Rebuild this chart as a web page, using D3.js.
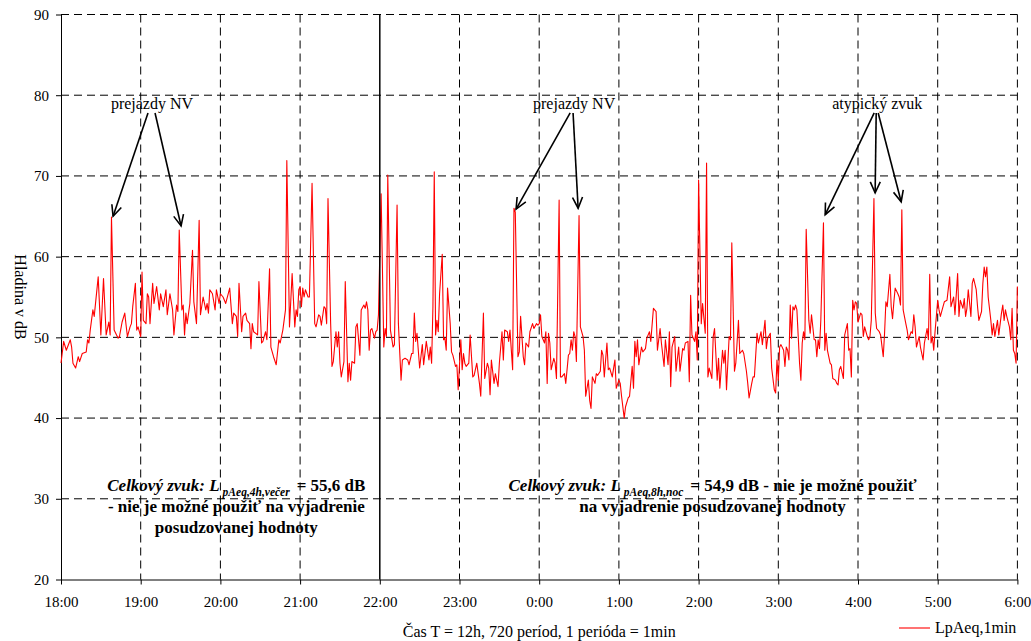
<!DOCTYPE html>
<html>
<head>
<meta charset="utf-8">
<script src="https://cdn.jsdelivr.net/npm/d3@7"></script>
<style>
  body { margin: 0; background: #fff; }
  svg { display: block; font-family: "Liberation Serif", "Times New Roman", serif; }
  .axis .tick text { font-size: 15px; fill: #000; }
  .axis path, .axis line { stroke: #000; }
</style>
</head>
<body>
<svg id="chart" width="1031" height="641"></svg>
<script>
// [minute from 18:00, LpAeq,1min dB], one array per 3 hours
const lp1800 = [[0,46.8],[2,49.5],[4,48.4],[7,49.7],[8,48.8],[9,46.8],[11,46.2],[13,47.6],[14,47.0],[16,48.0],[19,48.2],[20,49.7],[21,49.3],[22,50.9],[24,53.4],[25,52.6],[28,57.5],[30,50.3],[32,57.3],[34,50.3],[36,51.9],[37,50.3],[38,64.9],[40,50.9],[43,49.9],[44,50.1],[46,51.9],[48,53.0],[49,51.5],[50,50.1],[52,51.3],[53,51.7],[54,53.8],[56,56.7],[57,50.9],[58,51.3],[60,50.1],[61,58.1],[62,52.1],[64,51.7],[65,55.4],[66,55.0],[67,51.7],[69,56.7],[70,54.2],[72,56.3],[74,53.4],[75,55.4],[77,53.8],[79,55.9],[80,52.8],[82,55.4],[84,53.4],[85,50.3],[87,54.0],[88,53.2],[89,63.3],[91,53.4],[92,54.0],[93,50.3],[94,53.0],[95,51.7],[97,54.2],[99,60.8],[100,54.4],[102,51.7],[104,64.5],[105,52.8],[107,55.0],[109,53.4],[110,54.2],[111,53.0],[112,55.9],[114,55.4],[116,53.4],[117,55.9],[119,54.2],[120,55.4],[122,55.0],[124,54.2],[127,56.1],[129,51.7],[130,53.0],[132,52.6],[133,50.1],[134,56.7],[136,50.7],[137,52.6],[139,53.0],[140,52.1],[142,51.7],[143,48.6],[144,51.7],[145,50.7],[148,50.3],[149,56.9],[151,49.3],[152,49.5],[154,50.7],[155,49.7],[157,58.5],[158,48.8],[160,47.6],[162,46.6],[164,49.7],[165,49.3],[167,50.9],[169,53.4],[170,71.9],[172,51.3],[174,57.9],[176,51.3],[177,53.4],[178,52.6]];

const lp2100 = [[179,55.9],[180,56.3],[181,53.8],[182,56.1],[183,55.0],[184,55.9],[186,55.0],[187,55.0],[189,69.1],[191,51.7],[192,51.3],[194,52.8],[195,52.6],[196,51.5],[198,53.8],[199,53.6],[200,51.7],[201,67.2],[203,51.7],[204,46.4],[205,47.0],[207,50.7],[208,48.8],[209,50.7],[210,46.8],[211,45.1],[213,47.0],[214,56.9],[216,44.5],[217,46.8],[218,44.7],[219,47.0],[221,46.8],[222,51.3],[223,51.7],[225,47.8],[226,53.4],[228,54.0],[229,53.6],[230,54.4],[231,53.4],[232,48.4],[233,50.9],[234,51.1],[236,49.9],[237,50.7],[238,50.9],[239,52.8],[241,67.8],[243,48.8],[244,51.1],[245,50.1],[246,70.1],[248,50.9],[250,48.8],[251,49.1],[253,66.4],[254,51.7],[256,44.7],[257,47.2],[259,47.4],[261,47.2],[262,46.6],[264,48.0],[265,48.0],[266,53.0],[267,49.5],[268,50.5],[270,46.2],[272,49.1],[273,46.6],[275,49.5],[277,47.2],[278,48.8],[279,46.8],[280,53.8],[281,70.5],[282,50.3],[283,52.1],[284,50.7],[285,55.4],[287,60.3],[288,49.7],[289,49.9],[290,48.4],[291,56.1],[293,51.7],[294,48.2],[295,47.8],[297,46.4],[298,46.6],[299,43.5],[301,49.7],[302,46.0],[303,48.0],[304,46.8],[305,46.4],[307,46.8],[308,50.3],[310,45.1],[311,45.3],[313,46.8],[315,44.3],[316,42.7],[318,53.0],[319,44.9],[321,46.8],[322,46.2],[323,42.9],[324,47.2],[326,44.3],[327,45.5],[329,43.9],[330,46.8],[332,50.7],[333,47.2],[334,50.9],[336,50.7],[337,49.5],[338,50.9],[340,46.0],[341,66.0],[342,65.5],[344,47.6],[345,48.2],[346,52.6],[348,47.6],[349,46.6],[350,49.3],[352,48.8],[353,50.7],[355,51.7],[356,51.1],[358,51.7],[359,51.5]];

const lp0000 = [[360,51.7],[361,52.8],[362,50.1],[364,49.3],[365,50.7],[366,44.3],[367,50.5],[368,49.3],[369,46.0],[371,47.4],[372,46.8],[373,44.9],[375,67.0],[376,45.1],[377,45.1],[379,45.5],[380,44.3],[382,47.8],[383,48.0],[384,49.7],[385,48.4],[386,50.7],[387,50.1],[388,47.0],[390,65.1],[391,51.3],[393,50.1],[394,48.4],[395,42.7],[397,44.7],[398,42.2],[399,41.2],[400,45.1],[402,44.3],[403,45.5],[404,45.3],[406,45.8],[407,48.4],[408,47.8],[409,45.1],[411,49.3],[412,46.0],[413,46.2],[415,45.1],[417,47.2],[418,43.7],[420,44.7],[421,44.3],[422,42.7],[424,40.0],[425,41.4],[427,42.5],[428,42.7],[430,46.4],[431,43.7],[432,49.5],[433,47.6],[434,49.7],[435,46.6],[437,48.8],[438,48.2],[440,48.6],[441,49.9],[443,50.7],[444,49.5],[446,53.6],[448,53.2],[449,48.4],[451,51.1],[452,49.3],[454,46.4],[455,49.7],[457,46.6],[458,50.7],[459,43.9],[460,48.8],[462,50.1],[463,45.8],[465,48.8],[466,45.8],[468,48.6],[469,48.4],[470,49.3],[472,49.5],[473,44.5],[474,55.2],[475,50.3],[477,49.5],[478,50.7],[479,47.2],[480,69.5],[482,51.7],[483,54.2],[485,50.5],[486,71.6],[487,45.1],[488,46.2],[490,44.9],[491,50.1],[492,51.1],[494,44.7],[495,47.4],[496,43.7],[498,48.4],[499,46.8],[500,48.4],[501,43.5],[503,50.1],[504,49.7],[505,61.7],[507,45.8],[508,46.8],[510,52.1],[511,48.0],[513,48.4],[514,48.0],[516,45.8],[517,44.3],[518,42.5],[520,44.3],[521,45.1],[522,45.1],[524,50.5],[525,49.3],[527,50.7],[528,49.1],[530,52.1],[531,48.6],[532,49.9],[534,50.5],[535,46.2],[537,43.5]];

const lp0300 = [[538,43.1],[539,47.2],[540,44.7],[541,48.8],[542,49.1],[544,48.4],[545,46.4],[546,48.8],[547,48.4],[548,47.2],[549,54.0],[550,49.9],[551,53.8],[552,53.4],[553,54.0],[554,53.4],[555,50.1],[556,46.8],[557,44.7],[558,49.3],[559,50.7],[560,49.7],[561,63.4],[563,52.1],[564,50.5],[565,52.8],[567,49.7],[568,49.7],[569,47.6],[570,49.7],[571,48.6],[572,52.1],[574,64.2],[575,48.4],[576,50.5],[577,48.4],[579,46.8],[580,46.6],[581,44.9],[583,44.7],[584,44.3],[585,44.1],[586,46.0],[587,46.4],[589,44.9],[590,50.3],[592,51.7],[593,48.4],[594,48.6],[595,45.1],[596,54.6],[597,53.4],[598,54.4],[599,54.2],[600,51.9],[602,53.0],[603,52.8],[604,50.1],[605,51.3],[607,50.1],[608,49.7],[609,50.1],[610,52.1],[612,67.2],[613,53.0],[614,51.1],[616,50.7],[617,50.3],[619,47.6],[620,50.5],[621,54.4],[622,53.8],[624,57.8],[625,53.8],[626,52.3],[627,54.4],[628,56.1],[630,55.4],[631,55.0],[632,54.0],[633,65.8],[634,53.4],[636,51.7],[637,50.9],[638,49.7],[640,50.7],[641,50.5],[642,52.8],[643,51.3],[644,48.8],[646,50.1],[647,48.8],[649,47.2],[650,49.3],[652,51.1],[653,49.7],[654,57.8],[655,49.3],[656,50.1],[657,48.4],[658,50.7],[660,54.6],[661,53.4],[662,52.6],[664,53.8],[665,54.4],[667,54.6],[669,57.5],[670,53.8],[672,55.0],[673,52.8],[675,57.9],[676,52.6],[677,54.6],[679,53.6],[680,54.8],[681,52.6],[682,53.6],[683,55.9],[685,52.6],[686,56.7],[687,57.3],[689,55.9],[690,53.8],[691,52.1],[693,53.2],[694,56.7],[695,58.7],[696,57.5],[697,58.7],[698,55.0],[700,52.1],[701,50.3],[702,51.7],[703,50.1],[705,52.1],[706,50.3],[708,53.0],[709,54.0],[710,52.1],[711,53.4],[712,52.6],[714,51.3],[715,49.7],[716,53.6],[717,48.4],[718,48.0],[719,46.8],[720,56.3]];

const hourLabels = ["18:00","19:00","20:00","21:00","22:00","23:00","0:00","1:00","2:00","3:00","4:00","5:00","6:00"];
const levelTicks = [20, 30, 40, 50, 60, 70, 80, 90];
const dividerMinute = 240; // 22:00, evening / night boundary

// arrow callouts: label position and arrows [from, to] in [minute, dB]
const callouts = [
  { label: "prejazdy NV", at: [68.5, 78.3],
    arrows: [[[65.5, 77.8], [39.2, 65.0]], [[70.8, 77.8], [90.4, 63.8]]] },
  { label: "prejazdy NV", at: [386.3, 78.3],
    arrows: [[[383.3, 77.8], [342.6, 65.9]], [[385.5, 77.8], [389.3, 66.0]]] },
  { label: "atypický zvuk", at: [614.5, 78.3],
    arrows: [[[612.2, 77.8], [575.3, 65.2]], [[613.7, 77.8], [612.9, 67.9]], [[615.2, 77.8], [632.5, 66.8]]] }
];

const PLOT = { left: 61, right: 1017.4, top: 14.5, bottom: 579.5 };

const svg = d3.select("#chart");

const x = d3.scaleLinear().domain([0, 720]).range([PLOT.left, PLOT.right]);
const y = d3.scaleLinear().domain([20, 90]).range([PLOT.bottom, PLOT.top]);
const hourTicks = hourLabels.map((_, i) => i * 60);

// —— Grid ——
const grid = svg.append("g").attr("class", "grid")
  .attr("stroke", "#000").attr("stroke-width", 1).attr("stroke-dasharray", "8,5");

grid.selectAll(".h").data(levelTicks.slice(1)).join("line")
  .attr("x1", PLOT.left).attr("x2", PLOT.right)
  .attr("y1", (d) => y(d)).attr("y2", (d) => y(d));

grid.selectAll(".v").data(hourTicks.filter((m) => m > 0 && m !== dividerMinute)).join("line")
  .attr("x1", (d) => x(d)).attr("x2", (d) => x(d))
  .attr("y1", PLOT.top).attr("y2", PLOT.bottom);

// —— Axes ——
svg.append("g").attr("class", "axis")
  .attr("transform", `translate(0,${PLOT.bottom})`)
  .call(d3.axisBottom(x).tickValues(hourTicks).tickFormat((d, i) => hourLabels[i])
    .tickSize(5).tickSizeOuter(0).tickPadding(12));

svg.append("g").attr("class", "axis")
  .attr("transform", `translate(${PLOT.left},0)`)
  .call(d3.axisLeft(y).tickValues(levelTicks).tickSize(5).tickSizeOuter(0).tickPadding(7));

svg.selectAll(".axis").attr("font-family", null).attr("font-size", null);

// —— Series ——
const series = lp1800.concat(lp2100, lp0000, lp0300);
const line = d3.line().x((d) => x(d[0])).y((d) => y(d[1]));

svg.append("path")
  .datum(series)
  .attr("fill", "none")
  .attr("stroke", "#ff0000")
  .attr("stroke-width", 1.1)
  .attr("stroke-linejoin", "round")
  .attr("d", line);

// 22:00 divider
svg.append("line")
  .attr("x1", x(dividerMinute)).attr("x2", x(dividerMinute))
  .attr("y1", PLOT.top).attr("y2", PLOT.bottom)
  .attr("stroke", "#000").attr("stroke-width", 1.5);

// —— Callouts ——
svg.append("defs").append("marker")
  .attr("id", "arrowhead")
  .attr("viewBox", "-12 -6 14 12")
  .attr("refX", 0).attr("refY", 0)
  .attr("markerWidth", 14).attr("markerHeight", 12)
  .attr("markerUnits", "userSpaceOnUse")
  .attr("orient", "auto")
  .append("path")
  .attr("d", "M-11,-5L0,0L-11,5")
  .attr("fill", "none").attr("stroke", "#000").attr("stroke-width", 1.6);

const callG = svg.append("g").attr("class", "callouts");
callouts.forEach((c) => {
  callG.append("text")
    .attr("x", x(c.at[0])).attr("y", y(c.at[1]))
    .attr("text-anchor", "middle").attr("font-size", 16)
    .text(c.label);
  callG.selectAll(null).data(c.arrows).join("line")
    .attr("x1", (d) => x(d[0][0])).attr("y1", (d) => y(d[0][1]))
    .attr("x2", (d) => x(d[1][0])).attr("y2", (d) => y(d[1][1]))
    .attr("stroke", "#000").attr("stroke-width", 1.6)
    .attr("marker-end", "url(#arrowhead)");
});

// —— Summary notes ——
function note(cx, baseDb, sub, tail, rest) {
  const t = svg.append("text")
    .attr("x", x(cx)).attr("y", y(baseDb))
    .attr("text-anchor", "middle").attr("font-size", 17).attr("font-weight", "bold");
  t.append("tspan").attr("font-style", "italic").text("Celkový zvuk: L");
  t.append("tspan").attr("font-style", "italic").attr("font-size", 11.5)
    .attr("dx", 3).attr("dy", 5).text(sub);
  t.append("tspan").attr("dx", 7).attr("dy", -5).text(tail);
  rest.forEach((r, i) => {
    svg.append("text")
      .attr("x", x(cx)).attr("y", y(baseDb) + 21 * (i + 1))
      .attr("text-anchor", "middle").attr("font-size", 17).attr("font-weight", "bold")
      .text(r);
  });
}
note(132, 31.0, "pAeq,4h,večer", "= 55,6 dB",
  ["- nie je možné použiť na vyjadrenie", "posudzovanej hodnoty"]);
note(490.5, 31.0, "pAeq,8h,noc", "= 54,9 dB - nie je možné použiť",
  ["na vyjadrenie posudzovanej hodnoty"]);

// —— Axis titles ——
svg.append("text")
  .attr("transform", `translate(15,${(PLOT.top + PLOT.bottom) / 2}) rotate(90)`)
  .attr("text-anchor", "middle").attr("font-size", 16)
  .text("Hladina v dB");

svg.append("text")
  .attr("x", (PLOT.left + PLOT.right) / 2).attr("y", 637)
  .attr("text-anchor", "middle").attr("font-size", 16)
  .text("Čas T = 12h, 720 períod, 1 perióda = 1min");

// —— Legend ——
const legend = svg.append("g").attr("transform", "translate(899,628)");
legend.append("line").attr("x1", 0).attr("x2", 31).attr("stroke", "#ff0000").attr("stroke-width", 1.1);
legend.append("text").attr("x", 36).attr("y", 5).attr("font-size", 16).text("LpAeq,1min");
</script>
</body>
</html>
